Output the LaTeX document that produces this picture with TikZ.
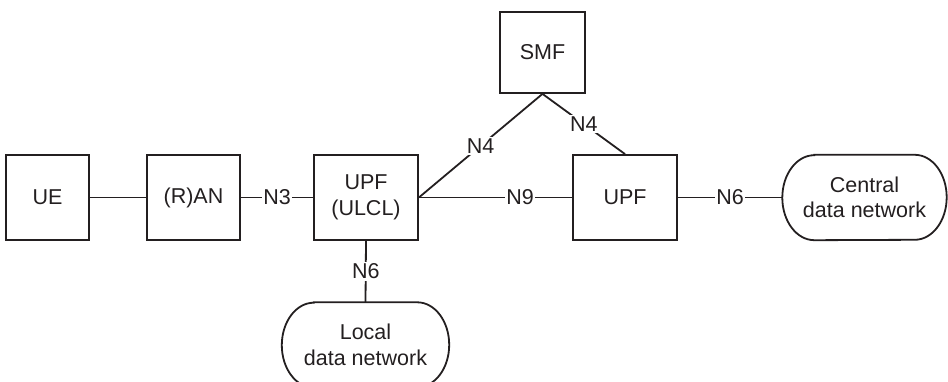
\documentclass[tikz,border=0pt]{standalone}
\usepackage{fontspec}
\setmainfont{Liberation Sans}
\definecolor{ink}{HTML}{231F20}
\begin{document}
\begin{tikzpicture}[x=1pt,y=1pt,
  every node/.style={font=\fontsize{21.5}{25.5}\selectfont, text=ink},
  nf/.style={draw=ink, line width=1.8pt, rectangle, minimum height=85pt, inner sep=0pt, align=center},
  dn/.style={rectangle, minimum height=85pt, inner sep=0pt, align=center},
  link/.style={draw=ink, line width=1.8pt},
  lbl/.style={fill=white, inner sep=1.5pt}]
\useasboundingbox (0,0) rectangle (948,382);

% network functions
\node[nf, minimum width=83pt]  (ue)   at (47.5,184.5) {UE};
\node[nf, minimum width=93pt]  (ran)  at (193.5,184.5) {(R)AN};
\node[nf, minimum width=104pt] (ulcl) at (366,184.5) {UPF\\(ULCL)};
\node[nf, minimum width=104pt] (upf)  at (625,184.5) {UPF};
\node[nf, minimum width=85pt, minimum height=81pt] (smf) at (542.5,329.5) {SMF};

% data networks (stadium outlines drawn from the node anchors)
\node[dn, minimum width=164pt] (cdn) at (864.5,184.5) {Central\\data network};
\node[dn, minimum width=167pt] (ldn) at (365.5,37) {Local\\data network};
\foreach \n in {cdn,ldn}{
  \draw[link] ([xshift=32pt]\n.north west) -- ([xshift=-32pt]\n.north east)
    arc[start angle=90, end angle=-90, x radius=32pt, y radius=42.5pt]
    -- ([xshift=32pt]\n.south west)
    arc[start angle=270, end angle=90, x radius=32pt, y radius=42.5pt] -- cycle;
}

% reference points
\draw[link] (ue.east) -- (ran.west);
\draw[link] (ran.east) -- node[lbl] {N3} (ulcl.west);
\draw[link] (ulcl.east) -- node[lbl, pos=0.66] {N9} (upf.west);
\draw[link] (upf.east) -- node[lbl] {N6} (cdn.west);
\draw[link] (ulcl.south) -- node[lbl] {N6} (ldn.north);
\draw[link] (smf.south) -- node[lbl] {N4} (ulcl.east);
\draw[link] (smf.south) -- node[lbl] {N4} (upf.north);
\end{tikzpicture}
\end{document}
